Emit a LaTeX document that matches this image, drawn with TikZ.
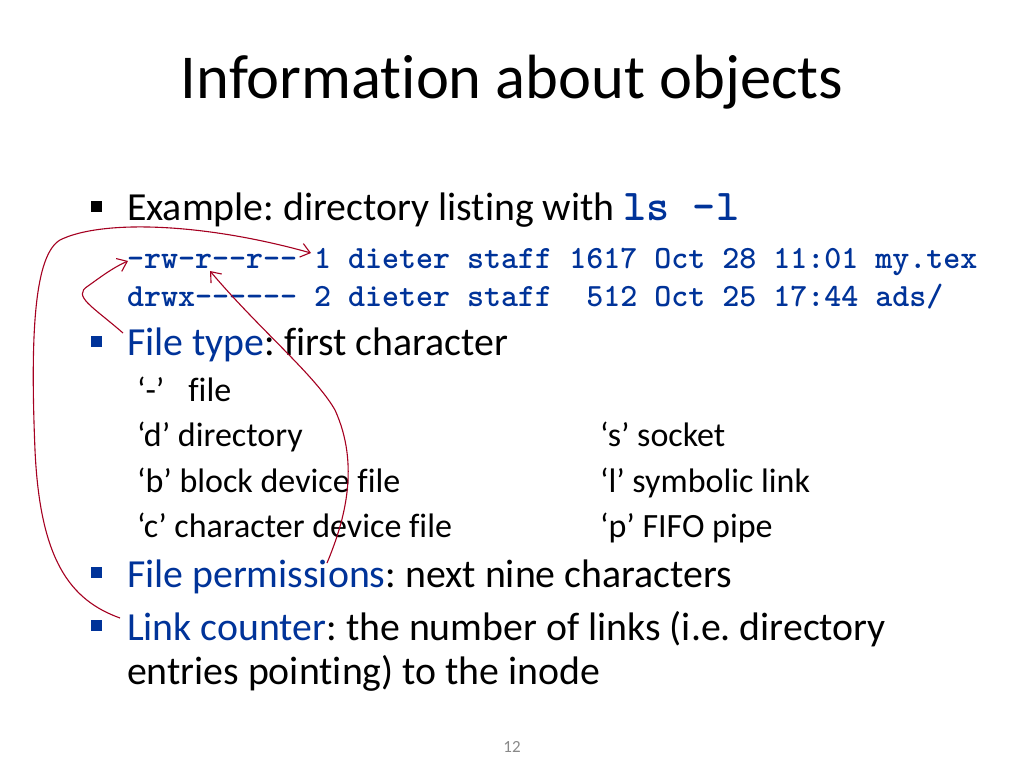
\documentclass[tikz,border=0pt]{standalone}
\usepackage{fontspec}
\setmainfont[Ligatures={NoCommon}]{Carlito}
\usetikzlibrary{arrows.meta}
\definecolor{slideblue}{RGB}{0,51,153}
\definecolor{arrowred}{RGB}{165,0,33}
\definecolor{pagegray}{RGB}{137,137,137}
\newcommand{\bodysize}{\fontsize{39.8}{48}\selectfont}
\newcommand{\subsize}{\fontsize{34}{40}\selectfont}
\newcommand{\codesize}{\fontsize{32.4}{38}\selectfont}
\frenchspacing
\begin{document}
\begin{tikzpicture}[x=1pt,y=-1pt,
  txt/.style={anchor=base west,inner sep=0pt,outer sep=0pt},
  bul/.style={fill=#1,minimum size=11pt,inner sep=0pt,outer sep=0pt},
  code/.style={txt,font=\codesize\ttfamily\bfseries,text=slideblue},
  pointer/.style={draw=arrowred,line width=1.1pt,-{Straight Barb[length=9pt,width=14pt,line width=1.1pt]}}]
\useasboundingbox (0,0) rectangle (1024,768);
\fill[white] (0,0) rectangle (1024,768);
% title
\node[anchor=base,inner sep=0pt] (title) at (512,98) {\fontsize{62.5}{70}\selectfont Information about objects};
% bullet 1
\node[bul=black] (b1) at (96,206.5) {};
\node[txt,font=\bodysize] (ex) at (127,220) {Example: directory listing with \textcolor{slideblue}{\ttfamily\bfseries\fontsize{44}{50}\selectfont ls -l}};
\node[code] (l1) at (127,268) {-rw-r--r--\ 1\ dieter\ staff\ 1617\ Oct\ 28\ 11:01\ my.tex};
\node[code] (l2) at (127,306) {drwx------\ 2\ dieter\ staff\ \ 512\ Oct\ 25\ 17:44\ ads/};
% bullet 2
\node[bul=slideblue] (b2) at (96,341) {};
\node[txt,font=\bodysize] (ft) at (127,355) {\textcolor{slideblue}{File type}: first character};
\node[txt,font=\subsize] (s1) at (137,401) {‘-’\hspace{24pt}file};
\node[txt,font=\subsize] (s2) at (137,446) {‘d’ directory};
\node[txt,font=\subsize] (s3) at (137,492) {‘b’ block device file};
\node[txt,font=\subsize] (s4) at (137,537) {‘c’ character device file};
\node[txt,font=\subsize] (s5) at (600,446) {‘s’ socket};
\node[txt,font=\subsize] (s6) at (600,492) {‘l’ symbolic link};
\node[txt,font=\subsize] (s7) at (600,537) {‘p’ FIFO pipe};
% bullet 3
\node[bul=slideblue] (b3) at (96,572) {};
\node[txt,font=\bodysize] (fp) at (127,587) {\textcolor{slideblue}{File permissions}: next nine characters};
% bullet 4
\node[bul=slideblue] (b4) at (96,625) {};
\node[txt,font=\bodysize] (lc) at (127,640) {\textcolor{slideblue}{Link counter}: the number of links (i.e. directory};
\node[txt,font=\bodysize] (lc2) at (127,684) {entries pointing) to the inode};
% page number
\node[anchor=base,inner sep=0pt,text=pagegray,font=\fontsize{17}{20}\selectfont] (pg) at (512,752) {12};
% pointer coordinates
\coordinate (ftS) at (123,333);
\coordinate (ftE) at (128,261);
\coordinate (fpS) at (327,563);
\coordinate (fpE) at (210,271);
\coordinate (lcS) at (120,618);
\coordinate (lcE) at (311,253);
\draw[pointer] (ftS) .. controls (92,306) and (72,296) .. (88,286) .. controls (98,279) and (112,268) .. (ftE);
\draw[pointer] (fpS) .. controls (345,520) and (360,465) .. (335,410) .. controls (315,375) and (260,330) .. (fpE);
\draw[pointer] (lcS) .. controls (70,600) and (40,560) .. (35,450) .. controls (30,330) and (35,255) .. (60,240) .. controls (100,220) and (200,222) .. (lcE);
\end{tikzpicture}
\end{document}
